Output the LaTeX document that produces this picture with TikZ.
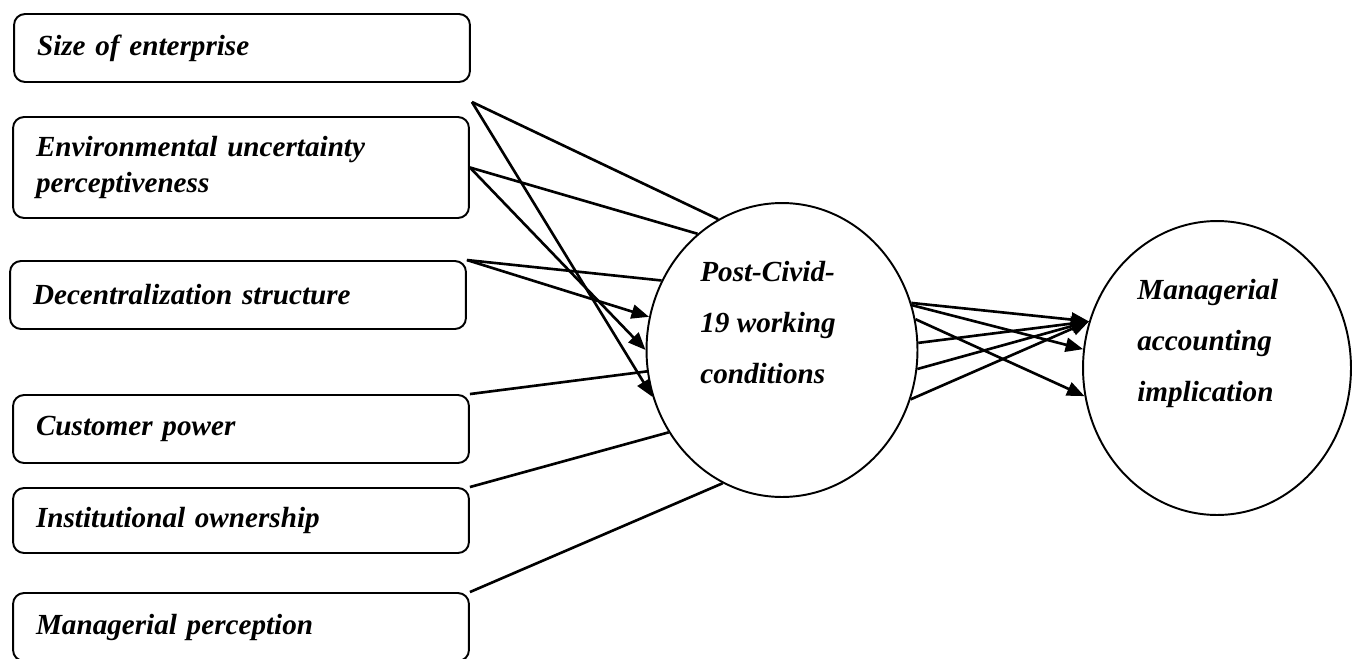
\documentclass[tikz,border=0pt]{standalone}
\usepackage{fontspec}
\setmainfont{Liberation Serif}
\usetikzlibrary{shapes,arrows.meta,positioning,calc}
\newcommand{\boxfont}{\fontsize{16.6}{20}\selectfont\bfseries\itshape}
\newcommand{\circfont}{\fontsize{16.6}{29}\selectfont\bfseries\itshape}

\begin{document}
\begin{tikzpicture}[x=0.02cm, y=-0.02cm,
  factor/.style={draw, line width=1.1pt, rounded corners=0.22cm, minimum height=1.36cm,
    text width=8.2cm, inner xsep=0.46cm, inner ysep=0pt, align=left, font=\boxfont},
  bigcirc/.style={draw, ellipse, line width=1.1pt, inner sep=0pt, minimum width=5.42cm, minimum height=5.88cm},
  circtext/.style={inner sep=0pt, align=left, font=\circfont},
  link/.style={line width=1.5pt},
  arrowlink/.style={link, -{Triangle[length=10pt,width=8pt]}}]
\clip (0,0) rectangle (1352,659);

% Factors
\node[factor] (box1) at (242,48) {Size of enterprise};
\node[factor, minimum height=2.02cm] (box2) at (241,167.5) {Environmental uncertainty\\perceptiveness};
\node[factor] (box3) at (238,295) {Decentralization structure};
\node[factor] (box4) at (241,429) {Customer power};
\node[factor, minimum height=1.3cm] (box5) at (241,520.5) {Institutional ownership};
\node[factor] (box6) at (241,627) {Managerial perception};

% Circles
\node[bigcirc] (post) at (782,350) {};
\node[circtext, anchor=north west] (posttext) at (700,261) {Post-Civid-\\19 working\\conditions};
\node[bigcirc, minimum width=5.36cm] (mgmt) at (1217,368) {};
\node[circtext, anchor=north west] (mgmttext) at (1137,279) {Managerial\\accounting\\implication};

\coordinate (s1) at ($(box1.south east)+(1,19)$);

% Factors to working conditions
\draw[link] (s1) -- (post.116.2);
\draw[arrowlink] (s1) -- (post.200);
\draw[link] (box2.east) -- (post.126.7);
\draw[arrowlink] (box2.east) -- (post.180);
\draw[link] (box3.north east) -- (post.150);
\draw[arrowlink] (box3.north east) -- (post.166);
\draw[link] (box4.north east) -- (post.189.7);
\draw[link] (box5.north east) -- (post.216.3);
\draw[link] (box6.north east) -- (post.246.4);

% Working conditions to implication
\draw[arrowlink] (post.20.7) -- (mgmt.160.8);
\draw[arrowlink] (post.19.1) -- (mgmt.172.3);
\draw[arrowlink] (post.13.1) -- (mgmt.192.6);
\foreach \a in {3.8,352.9,339.3}
  \draw[arrowlink] (post.\a) -- (mgmt.160.8);
\end{tikzpicture}
\end{document}
